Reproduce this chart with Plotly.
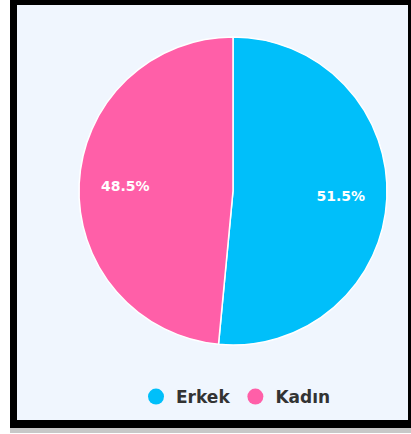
import plotly.graph_objects as go

labels = ["Erkek", "Kadın"]
values = [51.5, 48.5]
colors = ["#00BFFA", "#FF5FA8"]

W, H = 411, 434

fig = go.Figure()

domain = dict(x=[(233 - 154) / W, (233 + 154) / W], y=[1 - (191 + 154) / H, 1 - (191 - 154) / H])

# full pie (no text)
fig.add_trace(go.Pie(
    labels=labels,
    values=values,
    sort=False,
    direction="clockwise",
    rotation=0,
    marker=dict(colors=colors, line=dict(color="#ffffff", width=1.5)),
    textinfo="none",
    showlegend=False,
    hoverinfo="label+percent",
    domain=domain,
))

# transparent ring overlay that only carries the labels at ~0.7 radius
fig.add_trace(go.Pie(
    labels=labels,
    values=values,
    sort=False,
    direction="clockwise",
    rotation=0,
    hole=0.4,
    marker=dict(colors=["rgba(0,0,0,0)"] * len(labels), line=dict(color="rgba(255,255,255,0)", width=0)),
    textinfo="percent",
    texttemplate="%{percent:.1%}",
    textposition="inside",
    insidetextorientation="horizontal",
    textfont=dict(family="DejaVu Sans", size=14, color="#ffffff", weight="bold"),
    showlegend=False,
    hoverinfo="skip",
    domain=domain,
))

# legend entries with circular markers
for lab, col in zip(labels, colors):
    fig.add_trace(go.Scatter(
        x=[None], y=[None], mode="markers", name=lab,
        marker=dict(color=col, size=17, symbol="circle"),
        showlegend=True,
    ))

def px_x(v):
    return v / W

def px_y(v):
    return 1 - v / H

fig.update_layout(
    width=W, height=H,
    margin=dict(l=0, r=0, t=0, b=0),
    paper_bgcolor="#ffffff",
    plot_bgcolor="rgba(0,0,0,0)",
    xaxis=dict(visible=False),
    yaxis=dict(visible=False),
    legend=dict(
        orientation="h", x=236 / W, xanchor="center", y=px_y(397), yanchor="middle",
        font=dict(family="DejaVu Sans", size=17, color="#333333", weight="bold"),
        bgcolor="rgba(0,0,0,0)", itemwidth=30, tracegroupgap=0,
    ),
    shapes=[
        dict(type="rect", xref="paper", yref="paper", x0=px_x(10), x1=px_x(413), y0=px_y(433), y1=px_y(428),
             fillcolor="#c8c8c8", line=dict(width=0), layer="below"),
        dict(type="rect", xref="paper", yref="paper", x0=px_x(10), x1=px_x(413), y0=px_y(428), y1=px_y(-2),
             fillcolor="#000000", line=dict(width=0), layer="below"),
        dict(type="rect", xref="paper", yref="paper", x0=px_x(17), x1=px_x(408), y0=px_y(420), y1=px_y(5),
             fillcolor="#F0F6FE", line=dict(width=0), layer="below"),
    ],
)

fig.write_html("out.html")
